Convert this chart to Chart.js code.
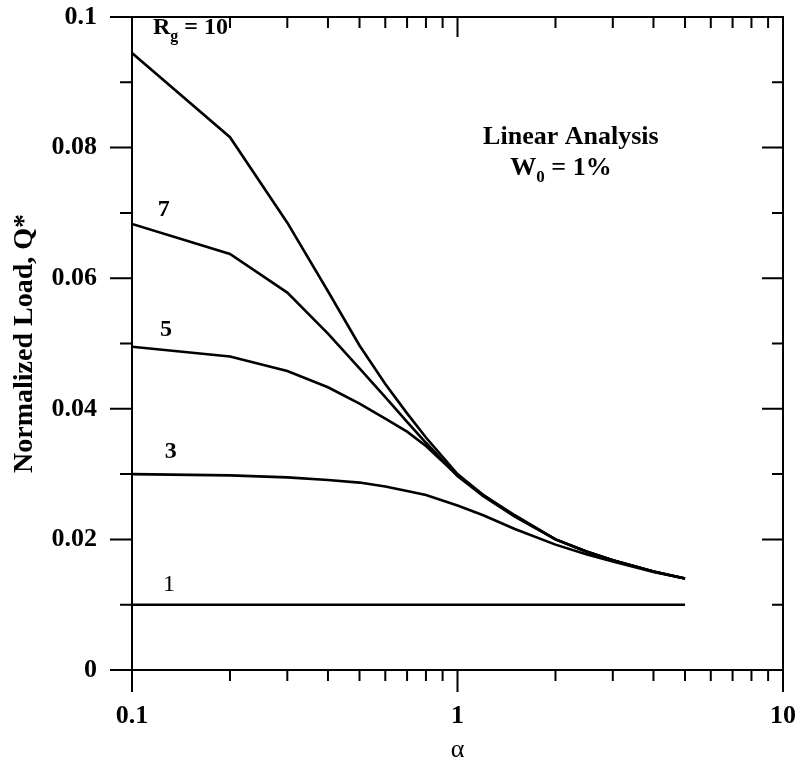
<!DOCTYPE html>
<html>
<head>
<meta charset="utf-8">
<script src="https://cdn.jsdelivr.net/npm/chart.js@4"></script>
<style>
  html, body { margin: 0; padding: 0; background: #fff; }
  #box { width: 800px; height: 768px; }
</style>
</head>
<body>
<div id="box"><canvas id="myChart"></canvas></div>
<script>
// # Data
const alpha = [0.1, 0.2, 0.3, 0.4, 0.5, 0.6, 0.7, 0.8, 1, 1.2, 1.5, 2, 2.5, 3, 4, 5];
const rg10 = [0.0945, 0.0816, 0.0685, 0.0580, 0.0497, 0.0438, 0.0393, 0.0356, 0.0300, 0.0268, 0.0236, 0.0200, 0.0181, 0.0168, 0.0151, 0.0140];
const rg7 = [0.0683, 0.0637, 0.0578, 0.0515, 0.0462, 0.0418, 0.0380, 0.0348, 0.0297, 0.0266, 0.0235, 0.0200, 0.0181, 0.0168, 0.0151, 0.0140];
const rg5 = [0.0495, 0.0480, 0.0458, 0.0433, 0.0408, 0.0385, 0.0365, 0.0343, 0.0298, 0.0268, 0.0237, 0.0200, 0.0181, 0.0168, 0.0151, 0.0140];
const rg3 = [0.0300, 0.0298, 0.0295, 0.0291, 0.0287, 0.0281, 0.0274, 0.0268, 0.0252, 0.0237, 0.0216, 0.0192, 0.0177, 0.0166, 0.0150, 0.0140];
const rg1 = [0.01, 0.01, 0.01, 0.01, 0.01, 0.01, 0.01, 0.01, 0.01, 0.01, 0.01, 0.01, 0.01, 0.01, 0.01, 0.01];

// # Tick values
const xMajor = [0.1, 1, 10];
const xMinor = [0.2, 0.3, 0.4, 0.5, 0.6, 0.7, 0.8, 0.9, 2, 3, 4, 5, 6, 7, 8, 9];
const yMajor = [0, 0.02, 0.04, 0.06, 0.08, 0.1];
const yMinor = [0.01, 0.03, 0.05, 0.07, 0.09];
const yLabels = ["0", "0.02", "0.04", "0.06", "0.08", "0.1"];

const serif = "'Liberation Serif', 'Times New Roman', serif";

const toPoints = (ys) => alpha.map((a, i) => ({ x: a, y: ys[i] }));

const line = (ys) => ({
  data: toPoints(ys),
  borderColor: "#000",
  borderWidth: 2.6,
  pointRadius: 0,
  tension: 0,
  fill: false,
});

// # Frame with the ticks in and out, like the original plot
const framePlugin = {
  id: "frame",
  afterDraw(chart) {
    const { ctx, chartArea: a, scales } = chart;
    const x = scales.x, y = scales.y;
    ctx.save();
    ctx.strokeStyle = "#000";
    ctx.lineWidth = 2;
    ctx.strokeRect(a.left, a.top, a.right - a.left, a.bottom - a.top);
    ctx.beginPath();
    yMajor.forEach((v) => {
      const py = y.getPixelForValue(v);
      ctx.moveTo(a.left - 22, py); ctx.lineTo(a.left, py);
      ctx.moveTo(a.right - 21, py); ctx.lineTo(a.right, py);
    });
    yMinor.forEach((v) => {
      const py = y.getPixelForValue(v);
      ctx.moveTo(a.left - 12, py); ctx.lineTo(a.left, py);
      ctx.moveTo(a.right - 11, py); ctx.lineTo(a.right, py);
    });
    xMajor.forEach((v) => {
      const px = x.getPixelForValue(v);
      ctx.moveTo(px, a.bottom); ctx.lineTo(px, a.bottom + 22);
      ctx.moveTo(px, a.top); ctx.lineTo(px, a.top + 20);
    });
    xMinor.forEach((v) => {
      const px = x.getPixelForValue(v);
      ctx.moveTo(px, a.bottom); ctx.lineTo(px, a.bottom + 11);
      ctx.moveTo(px, a.top); ctx.lineTo(px, a.top + 11);
    });
    ctx.stroke();
    ctx.restore();
  },
};

// # Curve labels and the note, placed in data units
const notes = [
  { text: "R", sub: "g", rest: " = 10", x: 0.116, y: 0.0983, size: 24, bold: true, align: "left" },
  { text: "7", x: 0.12, y: 0.0704, size: 24, bold: true, align: "left" },
  { text: "5", x: 0.122, y: 0.0521, size: 24, bold: true, align: "left" },
  { text: "3", x: 0.126, y: 0.0334, size: 24, bold: true, align: "left" },
  { text: "1", x: 0.1245, y: 0.013, size: 24, bold: false, align: "left" },
  { text: "Linear Analysis", x: 2.23, y: 0.0816, size: 26, bold: true, align: "center" },
  { text: "W", sub: "0", rest: " = 1%", x: 2.08, y: 0.0768, size: 26, bold: true, align: "center" },
];

const notesPlugin = {
  id: "notes",
  afterDatasetsDraw(chart) {
    const { ctx, scales } = chart;
    ctx.save();
    ctx.fillStyle = "#000";
    ctx.textBaseline = "middle";
    notes.forEach((n) => {
      const big = (n.bold ? "bold " : "") + n.size + "px " + serif;
      const small = (n.bold ? "bold " : "") + Math.round(n.size * 0.65) + "px " + serif;
      ctx.font = big;
      const w1 = ctx.measureText(n.text).width;
      const w3 = n.rest ? ctx.measureText(n.rest).width : 0;
      ctx.font = small;
      const w2 = n.sub ? ctx.measureText(n.sub).width : 0;
      const total = w1 + w2 + w3;
      let px = scales.x.getPixelForValue(n.x);
      const py = scales.y.getPixelForValue(n.y);
      if (n.align === "center") px -= total / 2;
      ctx.textAlign = "left";
      ctx.font = big;
      ctx.fillText(n.text, px, py);
      if (n.sub) {
        ctx.font = small;
        ctx.fillText(n.sub, px + w1, py + n.size * 0.35);
        ctx.font = big;
        ctx.fillText(n.rest, px + w1 + w2, py);
      }
    });
    ctx.restore();
  },
};

const chart = document.getElementById("myChart");

new Chart(chart, {
  type: "line",
  data: {
    datasets: [line(rg10), line(rg7), line(rg5), line(rg3), line(rg1)],
  },
  options: {
    responsive: true,
    maintainAspectRatio: false,
    animation: false,
    layout: { padding: { top: 17, right: 17, left: 0, bottom: 0 } },
    plugins: { legend: { display: false }, tooltip: { enabled: false } },
    scales: {
      x: {
        type: "logarithmic",
        min: 0.1,
        max: 10,
        grid: { display: false, drawTicks: false },
        border: { display: false },
        afterBuildTicks: (s) => { s.ticks = xMajor.map((v) => ({ value: v })); },
        afterFit: (s) => { s.height = 98; s.paddingLeft = 0; s.paddingRight = 0; },
        ticks: {
          autoSkip: false,
          maxRotation: 0,
          padding: 31,
          color: "#000",
          font: { family: serif, size: 26, weight: "bold" },
          callback: (v) => String(v),
        },
        title: {
          display: true,
          text: "α",
          color: "#000",
          padding: { top: 0, bottom: 2 },
          font: { family: serif, size: 26 },
        },
      },
      y: {
        min: 0,
        max: 0.1,
        grid: { display: false, drawTicks: false },
        border: { display: false },
        afterBuildTicks: (s) => { s.ticks = yMajor.map((v) => ({ value: v })); },
        afterFit: (s) => { s.width = 132; s.paddingTop = 0; s.paddingBottom = 0; },
        ticks: {
          autoSkip: false,
          padding: 35,
          color: "#000",
          font: { family: serif, size: 26, weight: "bold" },
          callback: (v, i) => yLabels[i],
        },
        title: {
          display: true,
          text: "Normalized Load, Q*",
          color: "#000",
          padding: { top: 8, bottom: 0 },
          font: { family: serif, size: 28, weight: "bold" },
        },
      },
    },
  },
  plugins: [framePlugin, notesPlugin],
});
</script>
</body>
</html>
